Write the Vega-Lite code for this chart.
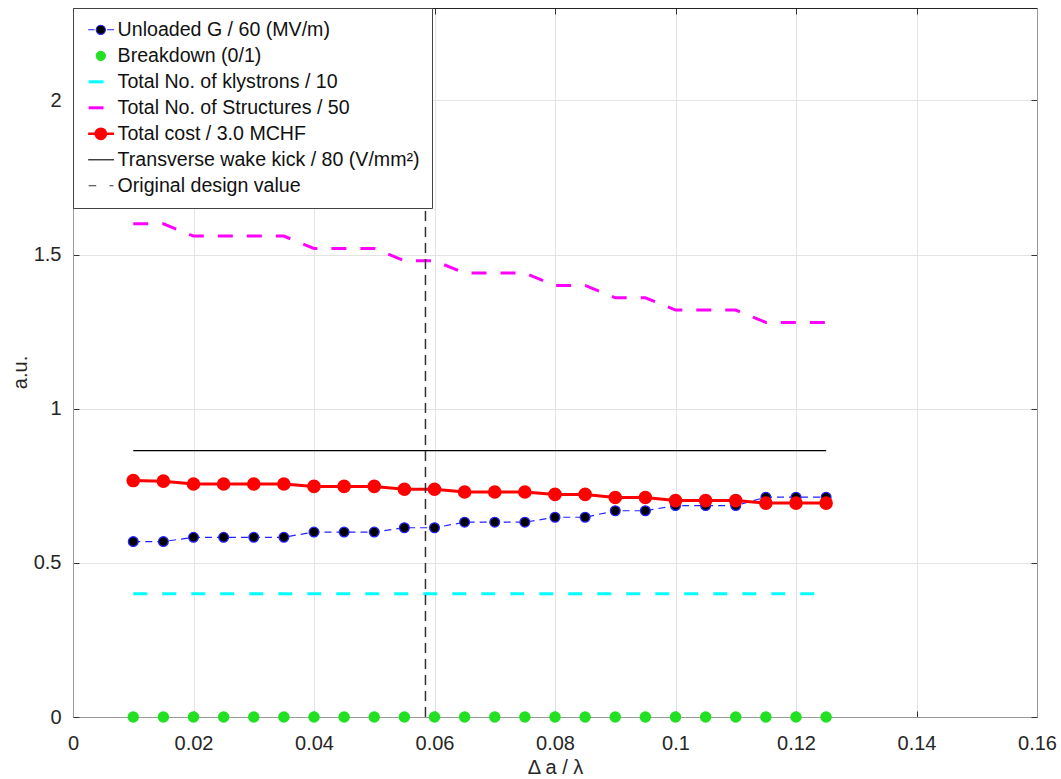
{
  "$schema": "https://vega.github.io/schema/vega-lite/v6.json",
  "width": 964,
  "height": 709,
  "autosize": {"type": "none"},
  "padding": {"left": 73, "top": 8, "right": 24, "bottom": 62},
  "background": "white",
  "config": {"font": "Liberation Sans", "view": {"stroke": "#999", "strokeWidth": 1}},
  "datasets": {
    "d": [
      {"x":0.01,"s":"Unloaded G / 60 (MV/m)","y":0.569},{"x":0.015,"s":"Unloaded G / 60 (MV/m)","y":0.569},{"x":0.02,"s":"Unloaded G / 60 (MV/m)","y":0.583},{"x":0.025,"s":"Unloaded G / 60 (MV/m)","y":0.583},{"x":0.03,"s":"Unloaded G / 60 (MV/m)","y":0.583},{"x":0.035,"s":"Unloaded G / 60 (MV/m)","y":0.583},{"x":0.04,"s":"Unloaded G / 60 (MV/m)","y":0.6},{"x":0.045,"s":"Unloaded G / 60 (MV/m)","y":0.6},{"x":0.05,"s":"Unloaded G / 60 (MV/m)","y":0.6},{"x":0.055,"s":"Unloaded G / 60 (MV/m)","y":0.614},{"x":0.06,"s":"Unloaded G / 60 (MV/m)","y":0.614},{"x":0.065,"s":"Unloaded G / 60 (MV/m)","y":0.632},{"x":0.07,"s":"Unloaded G / 60 (MV/m)","y":0.632},{"x":0.075,"s":"Unloaded G / 60 (MV/m)","y":0.632},{"x":0.08,"s":"Unloaded G / 60 (MV/m)","y":0.648},{"x":0.085,"s":"Unloaded G / 60 (MV/m)","y":0.648},{"x":0.09,"s":"Unloaded G / 60 (MV/m)","y":0.669},{"x":0.095,"s":"Unloaded G / 60 (MV/m)","y":0.669},{"x":0.1,"s":"Unloaded G / 60 (MV/m)","y":0.686},{"x":0.105,"s":"Unloaded G / 60 (MV/m)","y":0.686},{"x":0.11,"s":"Unloaded G / 60 (MV/m)","y":0.686},{"x":0.115,"s":"Unloaded G / 60 (MV/m)","y":0.713},{"x":0.12,"s":"Unloaded G / 60 (MV/m)","y":0.713},{"x":0.125,"s":"Unloaded G / 60 (MV/m)","y":0.713},
      {"x":0.01,"s":"Breakdown (0/1)","y":0},{"x":0.015,"s":"Breakdown (0/1)","y":0},{"x":0.02,"s":"Breakdown (0/1)","y":0},{"x":0.025,"s":"Breakdown (0/1)","y":0},{"x":0.03,"s":"Breakdown (0/1)","y":0},{"x":0.035,"s":"Breakdown (0/1)","y":0},{"x":0.04,"s":"Breakdown (0/1)","y":0},{"x":0.045,"s":"Breakdown (0/1)","y":0},{"x":0.05,"s":"Breakdown (0/1)","y":0},{"x":0.055,"s":"Breakdown (0/1)","y":0},{"x":0.06,"s":"Breakdown (0/1)","y":0},{"x":0.065,"s":"Breakdown (0/1)","y":0},{"x":0.07,"s":"Breakdown (0/1)","y":0},{"x":0.075,"s":"Breakdown (0/1)","y":0},{"x":0.08,"s":"Breakdown (0/1)","y":0},{"x":0.085,"s":"Breakdown (0/1)","y":0},{"x":0.09,"s":"Breakdown (0/1)","y":0},{"x":0.095,"s":"Breakdown (0/1)","y":0},{"x":0.1,"s":"Breakdown (0/1)","y":0},{"x":0.105,"s":"Breakdown (0/1)","y":0},{"x":0.11,"s":"Breakdown (0/1)","y":0},{"x":0.115,"s":"Breakdown (0/1)","y":0},{"x":0.12,"s":"Breakdown (0/1)","y":0},{"x":0.125,"s":"Breakdown (0/1)","y":0},
      {"x":0.01,"s":"Total No. of klystrons / 10","y":0.4},{"x":0.015,"s":"Total No. of klystrons / 10","y":0.4},{"x":0.02,"s":"Total No. of klystrons / 10","y":0.4},{"x":0.025,"s":"Total No. of klystrons / 10","y":0.4},{"x":0.03,"s":"Total No. of klystrons / 10","y":0.4},{"x":0.035,"s":"Total No. of klystrons / 10","y":0.4},{"x":0.04,"s":"Total No. of klystrons / 10","y":0.4},{"x":0.045,"s":"Total No. of klystrons / 10","y":0.4},{"x":0.05,"s":"Total No. of klystrons / 10","y":0.4},{"x":0.055,"s":"Total No. of klystrons / 10","y":0.4},{"x":0.06,"s":"Total No. of klystrons / 10","y":0.4},{"x":0.065,"s":"Total No. of klystrons / 10","y":0.4},{"x":0.07,"s":"Total No. of klystrons / 10","y":0.4},{"x":0.075,"s":"Total No. of klystrons / 10","y":0.4},{"x":0.08,"s":"Total No. of klystrons / 10","y":0.4},{"x":0.085,"s":"Total No. of klystrons / 10","y":0.4},{"x":0.09,"s":"Total No. of klystrons / 10","y":0.4},{"x":0.095,"s":"Total No. of klystrons / 10","y":0.4},{"x":0.1,"s":"Total No. of klystrons / 10","y":0.4},{"x":0.105,"s":"Total No. of klystrons / 10","y":0.4},{"x":0.11,"s":"Total No. of klystrons / 10","y":0.4},{"x":0.115,"s":"Total No. of klystrons / 10","y":0.4},{"x":0.12,"s":"Total No. of klystrons / 10","y":0.4},{"x":0.125,"s":"Total No. of klystrons / 10","y":0.4},
      {"x":0.01,"s":"Total No. of Structures / 50","y":1.6},{"x":0.015,"s":"Total No. of Structures / 50","y":1.6},{"x":0.02,"s":"Total No. of Structures / 50","y":1.56},{"x":0.025,"s":"Total No. of Structures / 50","y":1.56},{"x":0.03,"s":"Total No. of Structures / 50","y":1.56},{"x":0.035,"s":"Total No. of Structures / 50","y":1.56},{"x":0.04,"s":"Total No. of Structures / 50","y":1.52},{"x":0.045,"s":"Total No. of Structures / 50","y":1.52},{"x":0.05,"s":"Total No. of Structures / 50","y":1.52},{"x":0.055,"s":"Total No. of Structures / 50","y":1.48},{"x":0.06,"s":"Total No. of Structures / 50","y":1.48},{"x":0.065,"s":"Total No. of Structures / 50","y":1.44},{"x":0.07,"s":"Total No. of Structures / 50","y":1.44},{"x":0.075,"s":"Total No. of Structures / 50","y":1.44},{"x":0.08,"s":"Total No. of Structures / 50","y":1.4},{"x":0.085,"s":"Total No. of Structures / 50","y":1.4},{"x":0.09,"s":"Total No. of Structures / 50","y":1.36},{"x":0.095,"s":"Total No. of Structures / 50","y":1.36},{"x":0.1,"s":"Total No. of Structures / 50","y":1.32},{"x":0.105,"s":"Total No. of Structures / 50","y":1.32},{"x":0.11,"s":"Total No. of Structures / 50","y":1.32},{"x":0.115,"s":"Total No. of Structures / 50","y":1.28},{"x":0.12,"s":"Total No. of Structures / 50","y":1.28},{"x":0.125,"s":"Total No. of Structures / 50","y":1.28},
      {"x":0.01,"s":"Total cost / 3.0 MCHF","y":0.767},{"x":0.015,"s":"Total cost / 3.0 MCHF","y":0.765},{"x":0.02,"s":"Total cost / 3.0 MCHF","y":0.756},{"x":0.025,"s":"Total cost / 3.0 MCHF","y":0.756},{"x":0.03,"s":"Total cost / 3.0 MCHF","y":0.756},{"x":0.035,"s":"Total cost / 3.0 MCHF","y":0.756},{"x":0.04,"s":"Total cost / 3.0 MCHF","y":0.748},{"x":0.045,"s":"Total cost / 3.0 MCHF","y":0.748},{"x":0.05,"s":"Total cost / 3.0 MCHF","y":0.748},{"x":0.055,"s":"Total cost / 3.0 MCHF","y":0.739},{"x":0.06,"s":"Total cost / 3.0 MCHF","y":0.739},{"x":0.065,"s":"Total cost / 3.0 MCHF","y":0.73},{"x":0.07,"s":"Total cost / 3.0 MCHF","y":0.73},{"x":0.075,"s":"Total cost / 3.0 MCHF","y":0.73},{"x":0.08,"s":"Total cost / 3.0 MCHF","y":0.722},{"x":0.085,"s":"Total cost / 3.0 MCHF","y":0.722},{"x":0.09,"s":"Total cost / 3.0 MCHF","y":0.712},{"x":0.095,"s":"Total cost / 3.0 MCHF","y":0.712},{"x":0.1,"s":"Total cost / 3.0 MCHF","y":0.702},{"x":0.105,"s":"Total cost / 3.0 MCHF","y":0.702},{"x":0.11,"s":"Total cost / 3.0 MCHF","y":0.702},{"x":0.115,"s":"Total cost / 3.0 MCHF","y":0.694},{"x":0.12,"s":"Total cost / 3.0 MCHF","y":0.694},{"x":0.125,"s":"Total cost / 3.0 MCHF","y":0.694},
      {"x":0.01,"s":"Transverse wake kick / 80 (V/mm²)","y":0.864},{"x":0.125,"s":"Transverse wake kick / 80 (V/mm²)","y":0.864}
    ],
    "design": [{"x":0.0585,"y":0,"y2":1.653,"s":"Original design value"}]
  },
  "layer": [
    {
      "data": {"name": "d"},
      "encoding": {
        "x": {"field": "x", "type": "quantitative",
          "scale": {"domain": [0, 0.16], "nice": false, "zero": false},
          "axis": {"orient": "bottom", "values": [0,0.02,0.04,0.06,0.08,0.1,0.12,0.14,0.16], "format": "~g",
            "grid": true, "gridColor": "#e3e3e3", "gridWidth": 1,
            "tickSize": -6, "tickColor": "#333", "tickWidth": 1, "domainColor": "#999",
            "labelFont": "Liberation Sans", "labelFontSize": 20, "labelColor": "#262626", "labelPadding": 22, "labelFlush": false, "labelOverlap": false,
            "title": "Δ a / λ", "titleFont": "Liberation Sans", "titleFontSize": 20, "titleFontWeight": "normal", "titleColor": "#262626", "titleY": 56, "titleBaseline": "alphabetic"}},
        "y": {"field": "y", "type": "quantitative",
          "scale": {"domain": [0, 2.3], "nice": false, "zero": false},
          "axis": {"orient": "left", "values": [0,0.5,1,1.5,2], "format": "~g",
            "grid": true, "gridColor": "#e3e3e3", "gridWidth": 1,
            "tickSize": -6, "tickColor": "#333", "tickWidth": 1, "domainColor": "#999",
            "labelFont": "Liberation Sans", "labelFontSize": 20, "labelColor": "#262626", "labelPadding": 18, "labelOverlap": false,
            "title": "a.u.", "titleFont": "Liberation Sans", "titleFontSize": 20, "titleFontWeight": "normal", "titleColor": "#262626", "titleX": -47, "titleY": 364, "titleBaseline": "alphabetic", "titleAngle": 270}},
        "color": {"field": "s", "type": "nominal",
          "scale": {"domain": ["Unloaded G / 60 (MV/m)", "Breakdown (0/1)", "Total No. of klystrons / 10", "Total No. of Structures / 50", "Total cost / 3.0 MCHF", "Transverse wake kick / 80 (V/mm²)", "Original design value"],
                    "range": ["#2323ff", "#22e022", "#00ffff", "#ff00ff", "#ff0000", "#000000", "#333333"]},
          "legend": {"orient": "top-left", "offset": 0, "title": null, "padding": 12, "rowPadding": 5,
            "symbolSize": 529, "symbolStrokeWidth": 1.5, "symbolOffset": 6,
            "labelFont": "Liberation Sans", "labelFontSize": 19.6, "labelColor": "#111", "labelOffset": 7, "labelLimit": 500,
            "fillColor": "white", "strokeColor": "#444",
            "encode": {"symbols": {"update": {
              "shape": {"signal": "datum.value === 'Unloaded G / 60 (MV/m)' ? 'M-1.1,0L-0.55,0M0.55,0L1.15,0M0.4,0A0.4,0.4,0,1,1,-0.4,0A0.4,0.4,0,1,1,0.4,0Z' : datum.value === 'Breakdown (0/1)' ? 'M0.4,0A0.4,0.4,0,1,1,-0.4,0A0.4,0.4,0,1,1,0.4,0Z' : datum.value === 'Total cost / 3.0 MCHF' ? 'M-1.1,0L1.15,0M0.45,0A0.45,0.45,0,1,1,-0.45,0A0.45,0.45,0,1,1,0.45,0Z' : datum.value === 'Original design value' ? 'M-1.06,0L-0.4,0M0.75,0L1.1,0' : datum.value === 'Transverse wake kick / 80 (V/mm²)' ? 'M-1.1,0L1.15,0' : 'M-1.06,0L0.24,0'"},
              "fill": {"signal": "datum.value === 'Unloaded G / 60 (MV/m)' ? 'black' : datum.value === 'Breakdown (0/1)' ? '#22e022' : datum.value === 'Total cost / 3.0 MCHF' ? 'red' : 'transparent'"},
              "stroke": {"signal": "datum.value === 'Unloaded G / 60 (MV/m)' ? '#2323ff' : datum.value === 'Breakdown (0/1)' ? '#22e022' : datum.value === 'Total No. of klystrons / 10' ? '#00ffff' : datum.value === 'Total No. of Structures / 50' ? '#ff00ff' : datum.value === 'Total cost / 3.0 MCHF' ? 'red' : datum.value === 'Transverse wake kick / 80 (V/mm²)' ? 'black' : '#333333'"},
              "strokeWidth": {"signal": "datum.value === 'Total No. of klystrons / 10' || datum.value === 'Total No. of Structures / 50' ? 3 : datum.value === 'Total cost / 3.0 MCHF' ? 2.5 : 1.1"},
              "opacity": {"value": 1}
            }}}}}
      },
      "layer": [
        {"transform": [{"filter": "datum.s === 'Unloaded G / 60 (MV/m)'"}], "mark": {"type": "line", "strokeWidth": 1.2, "strokeDash": [7, 5]}},
        {"transform": [{"filter": "datum.s === 'Unloaded G / 60 (MV/m)'"}], "mark": {"type": "point", "filled": false, "fill": "black", "size": 95, "opacity": 1, "strokeWidth": 1.3}},
        {"transform": [{"filter": "datum.s === 'Breakdown (0/1)'"}], "mark": {"type": "point", "filled": false, "fill": "#22e022", "size": 90, "opacity": 1, "clip": false}},
        {"transform": [{"filter": "datum.s === 'Total No. of klystrons / 10'"}], "mark": {"type": "line", "strokeWidth": 3, "strokeDash": [14, 15]}},
        {"transform": [{"filter": "datum.s === 'Total No. of Structures / 50'"}], "mark": {"type": "line", "strokeWidth": 3, "strokeDash": [15, 14]}},
        {"transform": [{"filter": "datum.s === 'Total cost / 3.0 MCHF'"}], "mark": {"type": "line", "strokeWidth": 3}},
        {"transform": [{"filter": "datum.s === 'Total cost / 3.0 MCHF'"}], "mark": {"type": "point", "filled": false, "fill": "#ff0000", "size": 135, "opacity": 1}},
        {"transform": [{"filter": "datum.s === 'Transverse wake kick / 80 (V/mm²)'"}], "mark": {"type": "line", "strokeWidth": 1.1}},
        {"data": {"name": "design"}, "mark": {"type": "rule", "strokeWidth": 1.5, "strokeDash": [10, 6]}, "encoding": {"y2": {"field": "y2"}}}
      ]
    },
    {
      "data": {"name": "d"},
      "mark": {"type": "point", "opacity": 0},
      "encoding": {
        "x": {"field": "x", "type": "quantitative", "scale": {"domain": [0, 0.16], "nice": false, "zero": false},
          "axis": {"orient": "top", "values": [0,0.02,0.04,0.06,0.08,0.1,0.12,0.14,0.16], "labels": false, "grid": false, "title": null, "tickSize": -6, "tickColor": "#333", "domainColor": "#222"}},
        "y": {"field": "y", "type": "quantitative", "scale": {"domain": [0, 2.3], "nice": false, "zero": false},
          "axis": {"orient": "right", "values": [0,0.5,1,1.5,2], "labels": false, "grid": false, "title": null, "tickSize": -6, "tickColor": "#333", "domainColor": "#999"}}
      }
    }
  ],
  "resolve": {"axis": {"x": "independent", "y": "independent"}}
}
